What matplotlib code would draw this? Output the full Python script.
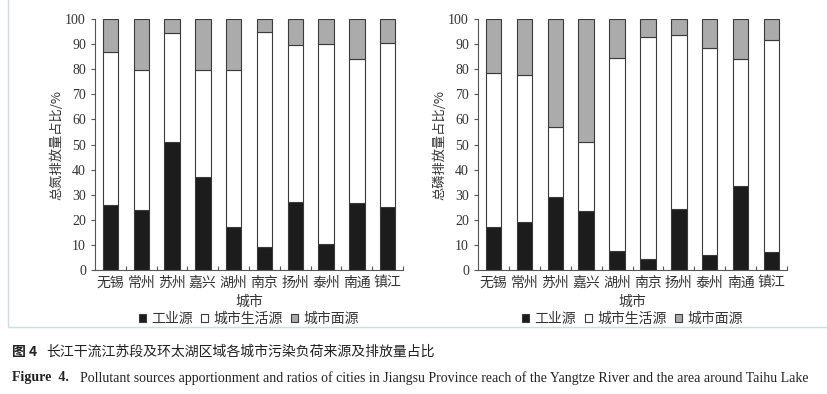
import matplotlib
matplotlib.use("Agg")
import matplotlib.pyplot as plt
from matplotlib.patches import Rectangle
import numpy as np

plt.rcParams['font.family'] = ['Liberation Serif', 'Noto Sans CJK SC', 'DejaVu Sans']

cities = ["无锡", "常州", "苏州", "嘉兴", "湖州", "南京", "扬州", "泰州", "南通", "镇江"]
# total nitrogen (%)
n_industrial = [26, 24, 51, 37, 17, 9, 27, 10.5, 26.5, 25]
n_domestic = [61, 55.5, 43.5, 42.5, 62.5, 86, 62.5, 79.5, 57.5, 65.5]
n_nonpoint = [13, 20.5, 5.5, 20.5, 20.5, 5, 10.5, 10, 16, 9.5]
# total phosphorus (%)
p_industrial = [17, 19, 29, 23.5, 7.5, 4.5, 24.5, 6, 33.5, 7]
p_domestic = [61.5, 58.5, 28, 27.5, 77, 88.5, 69, 82.5, 50.5, 84.5]
p_nonpoint = [21.5, 22.5, 43, 49, 15.5, 7, 6.5, 11.5, 16, 8.5]

series_names = ["工业源", "城市生活源", "城市面源"]
colors = ["#1c1c1c", "#ffffff", "#ababab"]
ylabels = ["总氮排放量占比/%", "总磷排放量占比/%"]

W, H = 827, 394
fig = plt.figure(figsize=(W / 100, H / 100), dpi=100)

txt = "#333333"
cjk = ['Noto Sans CJK SC', 'DejaVu Sans']

def draw(ax, vals, ylabel):
    x = np.arange(len(cities))
    bottom = np.zeros(len(cities))
    for v, c, name in zip(vals, colors, series_names):
        ax.bar(x, v, width=0.5, bottom=bottom, color=c, edgecolor="#3a3a3a",
               linewidth=0.8, label=name)
        bottom += np.array(v)
    ax.set_xlim(-0.5, 9.5)
    ax.set_ylim(0, 100)
    ax.set_yticks(range(0, 101, 10))
    ax.tick_params(axis='y', labelsize=10, colors="#555555", labelcolor=txt, length=3, width=0.8)
    ax.set_xticks(x)
    ax.set_xticklabels(cities, fontfamily=cjk, fontsize=10, color=txt)
    ax.tick_params(axis='x', length=0, pad=4)
    ax.set_xticks(np.arange(-0.5, 10.5, 1.0)[1:], minor=True)
    ax.tick_params(axis='x', which='minor', length=3, direction='in', width=0.8, colors="#555555")
    for s in ['top', 'right']:
        ax.spines[s].set_visible(False)
    for s in ['left', 'bottom']:
        ax.spines[s].set_color("#555555")
        ax.spines[s].set_linewidth(0.8)
    ax.set_ylabel(ylabel, fontfamily=cjk, fontsize=9.5, color=txt, labelpad=1)
    ax.set_xlabel("城市", fontfamily=cjk, fontsize=10, color=txt, labelpad=4)
    ax.legend(loc='center', bbox_to_anchor=(0.5, -0.195), ncol=3, frameon=False,
              prop={'family': cjk, 'size': 10}, handlelength=0.5, handleheight=0.5,
              handletextpad=0.4, columnspacing=0.6, labelcolor=txt)

ax1 = fig.add_axes([95 / W, 1 - 270 / H, 308 / W, 251 / H])
draw(ax1, [n_industrial, n_domestic, n_nonpoint], ylabels[0])
ax2 = fig.add_axes([478 / W, 1 - 270 / H, 309 / W, 251 / H])
draw(ax2, [p_industrial, p_domestic, p_nonpoint], ylabels[1])

# light frame around the chart panel
fig.patches.append(Rectangle((8 / W, 1 - 327 / H), 1.0, 327 / H + 0.01,
                             transform=fig.transFigure, fill=False,
                             edgecolor="#cfdde0", linewidth=1.0))

fig.text(12 / W, 1 - 352 / H, "图 4  ", fontfamily=cjk, fontsize=10, fontweight='bold',
         color="#222222", va='center')
fig.text(46 / W, 1 - 352 / H, "长江干流江苏段及环太湖区域各城市污染负荷来源及排放量占比",
         fontfamily=cjk, fontsize=10, color="#222222", va='center')
fig.text(12 / W, 1 - 378 / H, "Figure  4.", fontfamily='Liberation Serif', fontsize=10,
         fontweight='bold', color="#222222", va='center')
fig.text(80 / W, 1 - 378 / H,
         "Pollutant sources apportionment and ratios of cities in Jiangsu Province reach of the Yangtze River and the area around Taihu Lake",
         fontfamily='Liberation Serif', fontsize=10, color="#222222", va='center')

fig.savefig("out.png", dpi=100)
